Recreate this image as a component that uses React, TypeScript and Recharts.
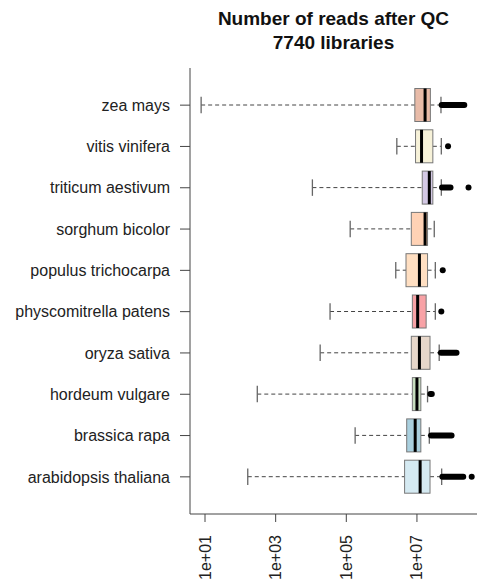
import React from 'react';
import { ComposedChart, Bar, XAxis, YAxis } from 'recharts';

// values are log10(number of reads)
const species = [
  'zea mays',
  'vitis vinifera',
  'triticum aestivum',
  'sorghum bicolor',
  'populus trichocarpa',
  'physcomitrella patens',
  'oryza sativa',
  'hordeum vulgare',
  'brassica rapa',
  'arabidopsis thaliana',
];
const whiskerLow = [0.89, 6.43, 4.04, 5.11, 6.40, 4.54, 4.26, 2.48, 5.25, 2.21];
const q1 = [6.94, 6.96, 7.15, 6.84, 6.69, 6.87, 6.84, 6.87, 6.71, 6.65];
const median = [7.23, 7.13, 7.35, 7.23, 7.07, 7.02, 7.07, 7.0, 6.95, 7.09];
const q3 = [7.38, 7.45, 7.45, 7.3, 7.3, 7.26, 7.37, 7.11, 7.11, 7.37];
const whiskerHigh = [7.68, 7.69, 7.69, 7.49, 7.52, 7.52, 7.63, 7.3, 7.35, 7.7];
// dense runs of outliers (many overlapping points)
const outlierRunLow: (number | null)[] = [7.7, null, 7.71, null, null, null, 7.68, 7.38, 7.4, 7.72];
const outlierRunHigh: (number | null)[] = [8.34, null, 7.95, null, null, null, 8.12, 7.42, 7.98, 8.31];
// isolated outliers
const isolatedOutliers: number[][] = [[], [7.88], [8.46], [], [7.73], [7.69], [], [], [], [8.55]];
const boxColors = [
  '#E8BBA8',
  '#F7F2D9',
  '#D3C8E4',
  '#FFD2B5',
  '#FFDFC2',
  '#F8A2A6',
  '#E7D7CA',
  '#C8DFBF',
  '#A9D0DF',
  '#D5EAF2',
];
const xTicks = [1, 3, 5, 7];
const xTickLabels = ['1e+01', '1e+03', '1e+05', '1e+07'];

const data = species.map((s, i) => {
  const top = Math.max(
    whiskerHigh[i],
    outlierRunHigh[i] ?? -Infinity,
    ...isolatedOutliers[i],
  );
  return { species: s, idx: i, range: [whiskerLow[i], top] };
});

const FONT = '"Liberation Sans", Arial, Helvetica, sans-serif';

const BoxShape = (props: any) => {
  const { x, y, width, height, payload } = props;
  const i = payload.idx;
  const lo = payload.range[0];
  const hi = payload.range[1];
  const x0 = Math.min(x, x + width);
  const w = Math.abs(width);
  const px = (v: number) => x0 + ((v - lo) / (hi - lo)) * w;
  const cy = y + height / 2;
  const capH = height / 2;
  const wl = px(whiskerLow[i]);
  const wh = px(whiskerHigh[i]);
  const b1 = px(q1[i]);
  const b3 = px(q3[i]);
  const md = px(median[i]);
  const stroke = '#555';
  return (
    <g>
      <line x1={wl} x2={b1} y1={cy} y2={cy} stroke="#444" strokeWidth={1} strokeDasharray="4 3" />
      <line x1={b3} x2={wh} y1={cy} y2={cy} stroke="#444" strokeWidth={1} strokeDasharray="4 3" />
      <line x1={wl} x2={wl} y1={cy - capH / 2} y2={cy + capH / 2} stroke="#666" strokeWidth={1.3} />
      <line x1={wh} x2={wh} y1={cy - capH / 2} y2={cy + capH / 2} stroke="#666" strokeWidth={1.3} />
      <rect x={b1} y={y} width={b3 - b1} height={height} fill={boxColors[i]} stroke="#777" strokeWidth={1} />
      <line x1={md} x2={md} y1={y} y2={y + height} stroke="#000" strokeWidth={3} />
      {outlierRunLow[i] != null && outlierRunHigh[i] != null ? (
        <line
          x1={px(outlierRunLow[i] as number)}
          x2={px(outlierRunHigh[i] as number)}
          y1={cy}
          y2={cy}
          stroke="#000"
          strokeWidth={6}
          strokeLinecap="round"
        />
      ) : null}
      {isolatedOutliers[i].map((v, k) => (
        <circle key={k} cx={px(v)} cy={cy} r={3} fill="#000" />
      ))}
    </g>
  );
};

const XTick = (props: any) => {
  const { x, y, payload } = props;
  const k = xTicks.indexOf(payload.value);
  return (
    <g transform={`translate(${x},${y})`}>
      <text
        transform="rotate(-90)"
        textAnchor="end"
        dy={5.5}
        fontSize={16}
        fontFamily={FONT}
        fill="#222"
      >
        {xTickLabels[k]}
      </text>
    </g>
  );
};

export default function App() {
  return (
    <div style={{ position: 'absolute', left: 0, top: 0, width: 477, height: 583, background: '#fff' }}>
      <div
        style={{
          position: 'absolute',
          left: 190,
          width: 287,
          top: 7,
          textAlign: 'center',
          fontFamily: FONT,
          fontWeight: 'bold',
          fontSize: 19,
          lineHeight: '24px',
          color: '#111',
          whiteSpace: 'nowrap',
        }}
      >
        <div>Number of reads after QC</div>
        <div>7740 libraries</div>
      </div>
      <ComposedChart
        width={477}
        height={583}
        data={data}
        layout="vertical"
        margin={{ top: 68, right: 0, bottom: 0, left: 0 }}
      >
        <XAxis
          type="number"
          domain={[0.575, 8.7]}
          allowDataOverflow
          ticks={xTicks}
          interval={0}
          height={69}
          tickSize={8}
          tickMargin={13}
          axisLine={{ stroke: '#444', strokeWidth: 1 }}
          tickLine={{ stroke: '#444', strokeWidth: 1 }}
          tick={<XTick />}
        />
        <YAxis
          type="category"
          dataKey="species"
          width={190}
          padding={{ top: 16.5, bottom: 16.5 }}
          tickSize={10}
          tickMargin={10}
          interval={0}
          axisLine={{ stroke: '#444', strokeWidth: 1 }}
          tickLine={{ stroke: '#444', strokeWidth: 1 }}
          tick={{ fill: '#222', fontSize: 16, fontFamily: FONT }}
        />
        <Bar dataKey="range" barSize={33} shape={<BoxShape />} isAnimationActive={false} />
      </ComposedChart>
    </div>
  );
}
